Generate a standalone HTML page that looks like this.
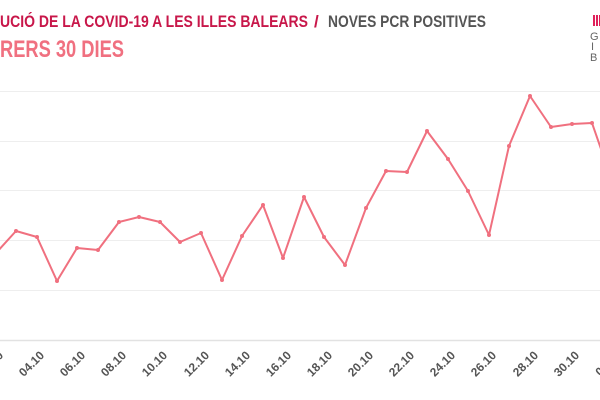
<!DOCTYPE html>
<html><head><meta charset="utf-8"><style>
html,body{margin:0;padding:0;background:#fff;width:600px;height:400px;overflow:hidden}
svg{display:block}
.t{font-family:"Liberation Sans Narrow","Liberation Sans",sans-serif;font-weight:bold}
</style></head><body>
<svg width="600" height="400" xmlns="http://www.w3.org/2000/svg">
<text class="t" x="0" y="27" font-size="17" fill="#c8174a" textLength="308" lengthAdjust="spacingAndGlyphs">UCIÓ DE LA COVID-19 A LES ILLES BALEARS</text>
<text class="t" x="314" y="27" font-size="17" fill="#c8174a">/</text>
<text class="t" x="328" y="27" font-size="17" fill="#555" textLength="158" lengthAdjust="spacingAndGlyphs">NOVES PCR POSITIVES</text>
<text class="t" x="0" y="57" font-size="24" fill="#f07080" textLength="124" lengthAdjust="spacingAndGlyphs">RERS 30 DIES</text>
<g fill="#e0205a"><rect x="593" y="15" width="2" height="11"/><rect x="596" y="15" width="2" height="11"/><rect x="599" y="15" width="1" height="11"/></g>
<g font-family="Liberation Sans,sans-serif" font-size="11" fill="#666"><text x="590" y="40">G</text><text x="591" y="50">I</text><text x="590" y="61">B</text></g>
<g stroke="#eee" stroke-width="1">
<line x1="0" y1="91.5" x2="600" y2="91.5"/><line x1="0" y1="141.5" x2="600" y2="141.5"/><line x1="0" y1="190.5" x2="600" y2="190.5"/><line x1="0" y1="240.5" x2="600" y2="240.5"/><line x1="0" y1="290.5" x2="600" y2="290.5"/></g>
<line x1="0" y1="340.5" x2="600" y2="340.5" stroke="#e2e2e2" stroke-width="1.5"/>
<polyline fill="none" stroke="#f0707f" stroke-width="2" stroke-linejoin="round" points="-4,253 16,231 37,237 57,281 77,248 98,250 119,222 139,217 160,222 180,242 201,233 222,280 242,236 263,205 283,258 304,197 324,237 345,265 366,208 386,171 407,172 427,131 448,159 468,191 489,235 509,146 530,96 551,127 572,124 592,123 610,175"/>
<g fill="#f0707f">
<circle cx="16" cy="231" r="2"/><circle cx="37" cy="237" r="2"/><circle cx="57" cy="281" r="2"/><circle cx="77" cy="248" r="2"/><circle cx="98" cy="250" r="2"/><circle cx="119" cy="222" r="2"/><circle cx="139" cy="217" r="2"/><circle cx="160" cy="222" r="2"/><circle cx="180" cy="242" r="2"/><circle cx="201" cy="233" r="2"/><circle cx="222" cy="280" r="2"/><circle cx="242" cy="236" r="2"/><circle cx="263" cy="205" r="2"/><circle cx="283" cy="258" r="2"/><circle cx="304" cy="197" r="2"/><circle cx="324" cy="237" r="2"/><circle cx="345" cy="265" r="2"/><circle cx="366" cy="208" r="2"/><circle cx="386" cy="171" r="2"/><circle cx="407" cy="172" r="2"/><circle cx="427" cy="131" r="2"/><circle cx="448" cy="159" r="2"/><circle cx="468" cy="191" r="2"/><circle cx="489" cy="235" r="2"/><circle cx="509" cy="146" r="2"/><circle cx="530" cy="96" r="2"/><circle cx="551" cy="127" r="2"/><circle cx="572" cy="124" r="2"/><circle cx="592" cy="123" r="2"/></g>
<g class="t" font-size="12" fill="#555" text-anchor="end">
<text transform="translate(4,356) rotate(-45)">02.10</text>
<text transform="translate(45,356) rotate(-45)">04.10</text>
<text transform="translate(86,356) rotate(-45)">06.10</text>
<text transform="translate(127,356) rotate(-45)">08.10</text>
<text transform="translate(168,356) rotate(-45)">10.10</text>
<text transform="translate(210,356) rotate(-45)">12.10</text>
<text transform="translate(251,356) rotate(-45)">14.10</text>
<text transform="translate(292,356) rotate(-45)">16.10</text>
<text transform="translate(333,356) rotate(-45)">18.10</text>
<text transform="translate(374,356) rotate(-45)">20.10</text>
<text transform="translate(415,356) rotate(-45)">22.10</text>
<text transform="translate(456,356) rotate(-45)">24.10</text>
<text transform="translate(497,356) rotate(-45)">26.10</text>
<text transform="translate(539,356) rotate(-45)">28.10</text>
<text transform="translate(580,356) rotate(-45)">30.10</text>
<text transform="translate(621,356) rotate(-45)">01.11</text>
</g>
</svg>
</body></html>
